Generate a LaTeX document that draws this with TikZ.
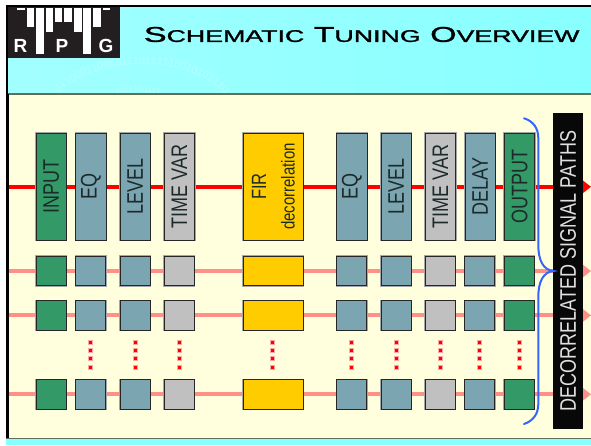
\documentclass[tikz,border=0pt]{standalone}
\usepackage{fontspec}
\setmainfont{Liberation Sans}
\newfontfamily\titlefont[FakeBold=1.2]{Liberation Sans}
\usetikzlibrary{arrows.meta,decorations.text}
\definecolor{cyanL}{HTML}{A2FFFF}
\definecolor{cyanR}{HTML}{88FFFF}
\definecolor{wmark}{HTML}{B6FFFF}
\definecolor{cream}{HTML}{FFFFDD}
\definecolor{dgreen}{HTML}{339966}
\definecolor{bluegray}{HTML}{7BA6B1}
\definecolor{midgray}{HTML}{C0C0C0}
\definecolor{amber}{HTML}{FFCC00}
\definecolor{pinkline}{HTML}{FF9088}
\definecolor{bracecol}{HTML}{3366FF}
\definecolor{rulecol}{HTML}{5F6F58}
\definecolor{logoblack}{HTML}{231F20}
\definecolor{inktext}{HTML}{1C2A2A}
\newcommand{\lab}[2][18]{\rotatebox{90}{\scalebox{1}[1.25]{\fontsize{#1}{#1}\selectfont #2}}}
\pgfdeclarelayer{back}
\pgfdeclarelayer{lines}
\pgfsetlayers{back,lines,main}
\tikzset{
  x=1pt,y=-1pt,
  box/.style={draw=black!85,line width=.8pt,inner sep=0pt,outer sep=0pt,text=inktext,
     preaction={draw=black!35,line width=1.8pt}},
  big/.style={box,minimum width=30.5pt,minimum height=107.5pt},
  small/.style={box,minimum width=30pt,minimum height=29.6pt},
  wide/.style={box,minimum width=60pt,minimum height=29.6pt},
  firbig/.style={box,minimum width=60pt,minimum height=107.5pt},
  gr/.style={fill=dgreen},
  bg/.style={fill=bluegray},
  gy/.style={fill=midgray},
  yl/.style={fill=amber},
  redpath/.style={draw=red,line width=4pt},
  pinkpath/.style={draw=pinkline,line width=4pt},
  redend/.style={redpath,-{Triangle[length=8pt,width=12pt]}},
  pinkend/.style={pinkpath,-{Triangle[length=8pt,width=12pt]}},
  dotbox/.style={fill=red,draw=red!35,line width=.5pt,minimum size=4pt,inner sep=0pt,outer sep=0pt},
  logobar/.style={fill=white,draw=none},
  logoletter/.style={text=white,inner sep=0pt,font=\bfseries\fontsize{19}{19}\selectfont},
  bracepath/.style={draw=bracecol,line width=2pt,line cap=round},
  plainlab/.style={inner sep=0pt,outer sep=0pt,text=inktext},
}
\begin{document}
\begin{tikzpicture}
\useasboundingbox (0,0) rectangle (591,445);
\begin{pgfonlayer}{back}
\fill[white] (0,0) rectangle (591,445);
\shade[left color=cyanL,right color=cyanR] (6,5) rectangle (591,94);
\fill[cream] (6,94) rectangle (591,438);
\fill[cyanR] (6,438) rectangle (591,445);
\begin{scope}[y=1pt]
\clip (9,-57) rectangle (591,-93);
\path[decorate,decoration={text along path,text align=center,
   text={|\fontsize{10.5}{10.5}\selectfont\color{wmark}|0110001100001110111110010101110}}]
   (56,-98) .. controls (85,-56) and (190,-50) .. (228,-98);
\path[decorate,decoration={text along path,text align=center,
   text={|\fontsize{8}{8}\selectfont\color{wmark}|1111100111}}]
   (108,-98) .. controls (125,-90) and (150,-90) .. (168,-98);
\end{scope}
\fill[rulecol] (6,93) rectangle (591,94.5);
\fill[rulecol] (6,437.5) rectangle (591,439);
\fill[black] (6,5) rectangle (591,7);
\fill[black] (6,5) rectangle (8,94);
\fill[black] (6,94) rectangle (9,438);
\end{pgfonlayer}
% logo
\fill[logoblack] (8,7) rectangle (120,57.5);
\fill[logobar] (17,8) rectangle (25,10);
\fill[logobar] (26.7,8) rectangle (34.3,26.7);
\fill[logobar] (36,8) rectangle (44,54);
\fill[logobar] (46,8) rectangle (53.3,32);
\fill[logobar] (55,8) rectangle (62.3,21.7);
\fill[logobar] (64,8) rectangle (72,21.7);
\fill[logobar] (73.7,8) rectangle (81.7,32);
\fill[logobar] (83,8) rectangle (91,54);
\fill[logobar] (93,8) rectangle (100.7,26.7);
\fill[logobar] (102.7,8) rectangle (110,10);
\node[logoletter] (logoR) at (20.5,46) {R};
\node[logoletter] (logoP) at (62,46) {P};
\node[logoletter] (logoG) at (106,46) {G};
% title
\node[inner sep=0pt,text=black] (title) at (361.7,34.5) {\resizebox{435.5pt}{15pt}{\titlefont\fontsize{21}{21}\selectfont S{\fontsize{16.5}{16.5}\selectfont CHEMATIC} T{\fontsize{16.5}{16.5}\selectfont UNING} O{\fontsize{16.5}{16.5}\selectfont VERVIEW}}};
% big row
\node[big,gr] (a0) at (51.2,186.8) {\lab{INPUT}};
\node[big,bg] (a1) at (90.8,186.8) {\lab{EQ}};
\node[big,bg] (a2) at (135.2,186.8) {\lab{LEVEL}};
\node[big,gy] (a3) at (179.5,186.8) {\lab{TIME VAR}};
\node[firbig,yl] (a4) at (273,186.8) {};
\node[plainlab] (firA) at (259,186.5) {\lab[16.5]{FIR}};
\node[plainlab] (firB) at (288,186.5) {\lab[15]{decorrelation}};
\node[big,bg] (a5) at (352,186.8) {\lab{EQ}};
\node[big,bg] (a6) at (396.2,186.8) {\lab{LEVEL}};
\node[big,gy] (a7) at (440.5,186.8) {\lab{TIME VAR}};
\node[big,bg] (a8) at (480.2,186.8) {\lab{DELAY}};
\node[big,gr] (a9) at (519.5,186.8) {\lab{OUTPUT}};
% small rows
\foreach \r/\yy in {b/271,c/315.4,d/394.3}{
  \node[small,gr] (\r0) at (51,\yy) {};
  \node[small,bg] (\r1) at (90.6,\yy) {};
  \node[small,bg] (\r2) at (135,\yy) {};
  \node[small,gy] (\r3) at (179.2,\yy) {};
  \node[wide,yl]  (\r4) at (273,\yy) {};
  \node[small,bg] (\r5) at (351.7,\yy) {};
  \node[small,bg] (\r6) at (396,\yy) {};
  \node[small,gy] (\r7) at (440.3,\yy) {};
  \node[small,bg] (\r8) at (479.7,\yy) {};
  \node[small,gr] (\r9) at (519.3,\yy) {};
}
% dots
\foreach \i/\xx in {1/90.3,2/135,3/179.2,4/272.7,5/351.7,6/396,7/440.3,8/479.7,9/519.2}{
  \foreach \j/\yy in {1/342.3,2/350.5,3/358.7,4/367}{
    \node[dotbox] (dot\i\j) at (\xx,\yy) {};
  }
}
% black bar
\node[fill=black!97,inner sep=0pt,outer sep=0pt,minimum width=30pt,minimum height=316pt,text=white!88!black] (bar) at (568,271) {\lab[18]{DECORRELATED SIGNAL PATHS}};
% line ends
\coordinate (sa) at (9,186.8);
\coordinate (sb) at (9,271);
\coordinate (sc) at (9,315.4);
\coordinate (sd) at (9,394.3);
\coordinate (ea) at (591,186.8);
\coordinate (eb) at (591,271);
\coordinate (ec) at (591,315.4);
\coordinate (ed) at (591,394.3);
% connectors
\begin{pgfonlayer}{lines}
\draw[redpath] (sa) -- (a0);
\foreach \p/\q in {0/1,1/2,2/3,3/4,4/5,5/6,6/7,7/8,8/9}{\draw[redpath] (a\p) -- (a\q);}
\draw[redend] (a9) -- (ea);
\foreach \r in {b,c,d}{
  \draw[pinkpath] (s\r) -- (\r0);
  \foreach \p/\q in {0/1,1/2,2/3,3/4,4/5,5/6,6/7,7/8,8/9}{\draw[pinkpath] (\r\p) -- (\r\q);}
  \draw[pinkend] (\r9) -- (e\r);
}
\end{pgfonlayer}
% brace
\coordinate (brTop) at (524,118.3);
\coordinate (brTip) at (553.5,271);
\coordinate (brBot) at (524,424);
\draw[bracepath] (brTop) .. controls (533,121) and (538.3,128) .. (538.3,138)
   -- (538.3,245) .. controls (538.3,260) and (543,270) .. (brTip)
   .. controls (543,272) and (538.3,282) .. (538.3,297)
   -- (538.3,404) .. controls (538.3,414) and (533,421) .. (brBot);
\end{tikzpicture}
\end{document}
